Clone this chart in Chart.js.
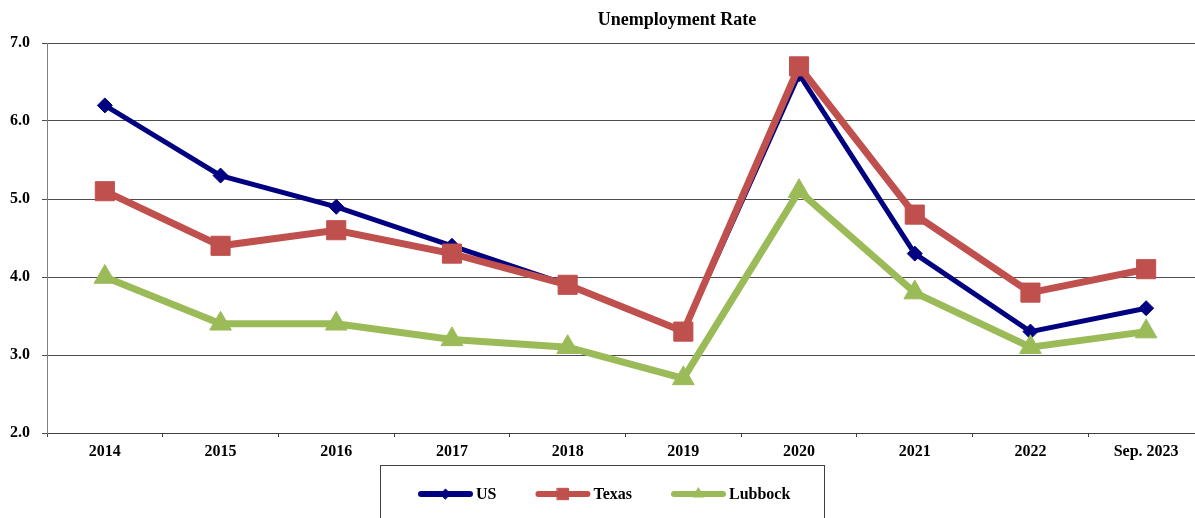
<!DOCTYPE html>
<html>
<head>
<meta charset="utf-8">
<script src="https://cdn.jsdelivr.net/npm/chart.js@4.4.0/dist/chart.umd.min.js"></script>
<style>
  html, body { margin: 0; padding: 0; background: #fff; overflow: hidden; }
  #wrap { width: 1195px; height: 518px; overflow: hidden; }
  #chart { display: block; }
</style>
</head>
<body>
<div id="wrap"><canvas id="chart" width="1204" height="518"></canvas></div>
<script>
const TITLE = 'Unemployment Rate';
const categories = ['2014', '2015', '2016', '2017', '2018', '2019', '2020', '2021', '2022', 'Sep. 2023'];
const usRate      = [6.2, 5.3, 4.9, 4.4, 3.9, 3.3, 6.6, 4.3, 3.3, 3.6];
const texasRate   = [5.1, 4.4, 4.6, 4.3, 3.9, 3.3, 6.7, 4.8, 3.8, 4.1];
const lubbockRate = [4.0, 3.4, 3.4, 3.2, 3.1, 2.7, 5.1, 3.8, 3.1, 3.3];
const yTicks = [2, 3, 4, 5, 6, 7];

const FONT = '"Liberation Serif", "Times New Roman", serif';

const series = [
  { label: 'US',      data: usRate,      color: '#000080', width: 5, style: 'rectRot',  radius: 7.5,  order: 3, legendRadius: 5 },
  { label: 'Texas',   data: texasRate,   color: '#C0504D', width: 7, style: 'rect',     radius: 13.5, order: 2, legendRadius: 8 },
  { label: 'Lubbock', data: lubbockRate, color: '#9BBB59', width: 7, style: 'triangle', radius: 12.5, order: 1, legendRadius: 6 }
];

// title and boxed legend drawn on top of the chart
const decorations = {
  id: 'decorations',
  afterDraw(chart) {
    const ctx = chart.ctx;
    ctx.save();
    ctx.fillStyle = '#000';
    ctx.font = 'bold 18px ' + FONT;
    ctx.textAlign = 'center';
    ctx.textBaseline = 'middle';
    ctx.fillText(TITLE, 677, 20);

    // legend box
    ctx.font = 'bold 16px ' + FONT;
    ctx.strokeStyle = '#404040';
    ctx.lineWidth = 1;
    ctx.strokeRect(380.5, 465.5, 444, 60);

    let x = 418;
    const y = 494;
    ctx.textAlign = 'left';
    chart.data.datasets.forEach((ds, i) => {
      const s = series[i];
      ctx.strokeStyle = s.color;
      ctx.fillStyle = s.color;
      ctx.lineWidth = 6;
      ctx.lineCap = 'round';
      ctx.beginPath();
      ctx.moveTo(x + 3, y);
      ctx.lineTo(x + 52, y);
      ctx.stroke();
      ctx.lineWidth = 1;
      Chart.helpers.drawPoint(ctx, { pointStyle: s.style, radius: s.legendRadius, rotation: 0, borderWidth: 1 }, x + 27.5, y);
      ctx.fillStyle = '#000';
      ctx.fillText(ds.label, x + 58, y + 1);
      x += 58 + ctx.measureText(ds.label).width + 39;
    });
    ctx.restore();
  }
};

new Chart(document.getElementById('chart'), {
  type: 'line',
  data: {
    labels: categories,
    datasets: series.map(s => ({
      label: s.label,
      data: s.data,
      borderColor: s.color,
      backgroundColor: s.color,
      borderWidth: s.width,
      pointStyle: s.style,
      pointRadius: s.radius,
      pointBorderWidth: 1,
      pointBackgroundColor: s.color,
      pointBorderColor: s.color,
      tension: 0,
      order: s.order
    }))
  },
  options: {
    responsive: false,
    animation: false,
    layout: { autoPadding: false, padding: { top: 43, right: 0, bottom: 0, left: 0 } },
    plugins: {
      legend: { display: false },
      title: { display: false },
      tooltip: { enabled: false }
    },
    scales: {
      x: {
        offset: true,
        grid: { offset: true, drawOnChartArea: false, drawTicks: true, tickLength: 4, color: '#404040' },
        border: { color: '#404040', width: 1 },
        ticks: { color: '#000', font: { family: FONT, size: 16, weight: 'bold' }, padding: 5, maxRotation: 0, autoSkip: false },
        afterFit: scale => { scale.height = 85; }
      },
      y: {
        min: 2,
        max: 7,
        afterBuildTicks: scale => { scale.ticks = yTicks.map(v => ({ value: v })); },
        grid: { color: '#4d4d4d', lineWidth: 1, tickLength: 5, drawTicks: true },
        border: { color: '#808080', width: 1 },
        ticks: {
          color: '#000',
          font: { family: FONT, size: 16, weight: 'bold' },
          padding: 12,
          callback: v => Number(v).toFixed(1)
        },
        afterFit: scale => { scale.width = 47; }
      }
    }
  },
  plugins: [decorations]
});
</script>
</body>
</html>
